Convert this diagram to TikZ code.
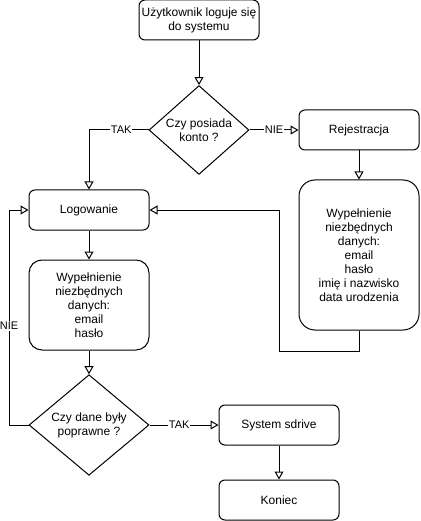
\documentclass[tikz,border=0pt]{standalone}
\usepackage{fontspec}
\setmainfont{Liberation Sans}
\usetikzlibrary{arrows.meta,positioning,shapes.geometric}

\begin{document}
\begin{tikzpicture}[
			x=1pt, y=-1pt,
			line width=1pt,
			pre/.style={{Triangle[open,length=8pt,width=9pt]}-},
			post/.style={-{Triangle[open,length=8pt,width=9pt]}},
			box/.style={draw,rounded corners=6pt,minimum width=120pt,minimum height=40pt,inner sep=2pt,align=center,font=\fontsize{12}{14}\selectfont},
			tall/.style={box,rounded corners=16pt},
			choice/.style={diamond,draw,inner sep=0pt,align=center,font=\fontsize{12}{14}\selectfont},
		lbl/.style={fill=white,inner sep=1pt,font=\fontsize{11}{13}\selectfont}]

		\useasboundingbox (0,0) rectangle (420,521);

		\node[box]  (S) at (199,20) {Użytkownik loguje się\\do systemu};
		\node[choice, minimum width=100pt, minimum height=80pt]  (K) at (199,130) {Czy posiada\\konto ?}
		edge [pre] (S);
		\node[box]  (R) at (359,130) {Rejestracja}
		edge [pre] node [lbl] {NIE} (K);
		\node[tall, minimum height=150pt]  (D) at (359,255) {Wypełnienie\\niezbędnych\\danych:\\email\\hasło\\imię i nazwisko\\data urodzenia}
		edge [pre] (R);

		\node[box]  (L) at (89,210) {Logowanie};
		\node[tall, rounded corners=13pt, minimum height=90pt]  (F) at (89,305) {Wypełnienie\\niezbędnych\\danych:\\email\\hasło}
		edge [pre] (L);
		\node[choice, minimum width=120pt, minimum height=90pt]  (P) at (89,425) {Czy dane były\\poprawne ?}
		edge [pre] (F);
		\node[box]  (Sys) at (279,425) {System sdrive}
		edge [pre] node [lbl, pos=0.57] {TAK} (P);
		\node[box]  (E) at (279,500) {Koniec}
		edge [pre] (Sys);

		% zagiete polaczenia
		\coordinate (ret) at (279,351);
		\coordinate (back) at (9,425);
		\draw[post] (K.west) -| node [lbl, pos=0.23] {TAK} (L.north);
		\draw[post] (D.south) |- (ret) |- (L.east);
		\draw[post] (P.west) -- (back) |- node [lbl, pos=0.23] {NIE} (L.west);
	\end{tikzpicture}
\end{document}
